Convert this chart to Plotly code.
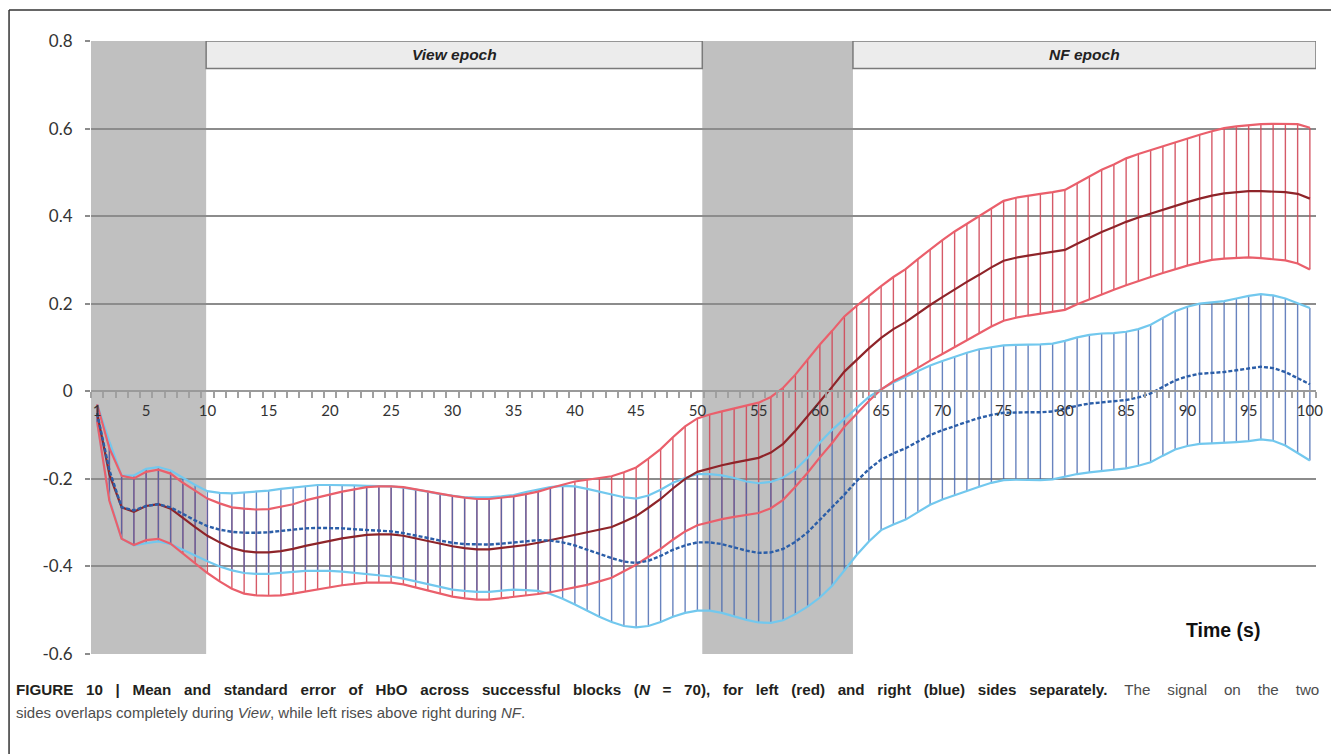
import plotly.graph_objects as go

time_s = list(range(1, 101))

left_mean = [
    -0.05, -0.19, -0.265, -0.275, -0.262, -0.258, -0.268, -0.29, -0.31, -0.33,
    -0.345, -0.358, -0.365, -0.368, -0.368, -0.365, -0.36, -0.353, -0.347, -0.342,
    -0.336, -0.332, -0.328, -0.327, -0.327, -0.33, -0.336, -0.343, -0.349, -0.354,
    -0.358, -0.361, -0.361, -0.358, -0.355, -0.351, -0.346, -0.34, -0.333, -0.327,
    -0.322, -0.316, -0.31, -0.298, -0.285, -0.266, -0.246, -0.222, -0.2, -0.184,
    -0.176, -0.169, -0.163, -0.158, -0.152, -0.14, -0.12, -0.09, -0.057, -0.022,
    0.01, 0.045, 0.072, 0.098, 0.122, 0.142, 0.158, 0.178, 0.197, 0.215,
    0.233, 0.25, 0.266, 0.283, 0.298, 0.305, 0.31, 0.314, 0.318, 0.323,
    0.337, 0.35, 0.364, 0.375, 0.387, 0.397, 0.406, 0.415, 0.424, 0.432,
    0.44, 0.447, 0.452, 0.455, 0.457, 0.457, 0.456, 0.455, 0.451, 0.44,
]
left_se = [
    0.02, 0.06, 0.072, 0.076, 0.078, 0.079, 0.08, 0.081, 0.083, 0.085,
    0.089, 0.093, 0.097, 0.098, 0.099, 0.101, 0.102, 0.104, 0.105, 0.106,
    0.107, 0.108, 0.109, 0.11, 0.11, 0.111, 0.112, 0.113, 0.114, 0.115,
    0.115, 0.115, 0.115, 0.115, 0.115, 0.116, 0.117, 0.119, 0.12, 0.121,
    0.12, 0.118, 0.116, 0.113, 0.111, 0.112, 0.114, 0.117, 0.12, 0.122,
    0.123, 0.123, 0.124, 0.125, 0.126, 0.127, 0.128, 0.128, 0.129, 0.129,
    0.128, 0.126, 0.123, 0.12, 0.118, 0.119, 0.121, 0.124, 0.127, 0.13,
    0.132, 0.133, 0.134, 0.135, 0.137, 0.137, 0.137, 0.137, 0.137, 0.137,
    0.138, 0.14, 0.142, 0.143, 0.145, 0.145, 0.145, 0.145, 0.145, 0.145,
    0.146, 0.147, 0.149, 0.15, 0.151, 0.153, 0.155, 0.156, 0.159, 0.162,
]
right_mean = [
    -0.05, -0.18, -0.265, -0.272, -0.262, -0.258, -0.265, -0.28, -0.295, -0.308,
    -0.316, -0.321, -0.323, -0.323, -0.322, -0.319, -0.316, -0.313, -0.312, -0.312,
    -0.313, -0.315, -0.317, -0.318, -0.32, -0.324, -0.329, -0.335, -0.341, -0.346,
    -0.349, -0.35, -0.35, -0.348, -0.345, -0.342, -0.34, -0.341, -0.345, -0.352,
    -0.362, -0.372, -0.381, -0.389, -0.392, -0.387, -0.376, -0.362, -0.352, -0.345,
    -0.345, -0.349, -0.356, -0.364, -0.369, -0.368, -0.36, -0.344, -0.322, -0.294,
    -0.266, -0.236, -0.205, -0.178, -0.156, -0.142, -0.13, -0.115, -0.1, -0.089,
    -0.079, -0.07, -0.061, -0.054, -0.049, -0.048, -0.048, -0.048, -0.046, -0.04,
    -0.033, -0.028, -0.025, -0.023, -0.02, -0.014, -0.005, 0.01, 0.025, 0.034,
    0.04, 0.042, 0.044, 0.048, 0.052, 0.056, 0.053, 0.044, 0.03, 0.016,
]
right_se = [
    0.02, 0.065, 0.072, 0.08, 0.085, 0.085, 0.084, 0.082, 0.081, 0.08,
    0.084, 0.088, 0.092, 0.094, 0.095, 0.096, 0.096, 0.097, 0.098, 0.098,
    0.099, 0.1, 0.101, 0.102, 0.103, 0.104, 0.105, 0.106, 0.106, 0.107,
    0.107, 0.108, 0.108, 0.108, 0.108, 0.112, 0.116, 0.122, 0.129, 0.135,
    0.139, 0.143, 0.146, 0.147, 0.147, 0.149, 0.151, 0.153, 0.154, 0.156,
    0.156, 0.157, 0.158, 0.158, 0.159, 0.161, 0.163, 0.165, 0.17, 0.177,
    0.178, 0.173, 0.169, 0.165, 0.161, 0.162, 0.163, 0.161, 0.159, 0.158,
    0.158, 0.158, 0.157, 0.155, 0.154, 0.154, 0.154, 0.155, 0.155, 0.155,
    0.156, 0.157, 0.157, 0.156, 0.156, 0.156, 0.157, 0.157, 0.158, 0.159,
    0.16, 0.161, 0.162, 0.164, 0.166, 0.166, 0.166, 0.168, 0.171, 0.174,
]

x_tick_vals = [1, 5, 10, 15, 20, 25, 30, 35, 40, 45, 50, 55, 60, 65, 70, 75, 80, 85, 90, 95, 100]
x_tick_text = [str(v) for v in x_tick_vals]
y_tick_vals = [-0.6, -0.4, -0.2, 0, 0.2, 0.4, 0.6, 0.8]
y_tick_text = ["-0.6", "-0.4", "-0.2", "0", "0.2", "0.4", "0.6", "0.8"]

baseline_periods = [(0.5, 9.9), (50.4, 62.7)]
epochs = [("View epoch", 9.9, 50.4), ("NF epoch", 62.7, 100.5)]
epoch_box_bottom = 0.737

caption_bold = ("FIGURE 10 | Mean and standard error of HbO across successful blocks (<i>N</i> = 70), "
                "for left (red) and right (blue) sides separately.").split(" ")
caption_regular_1 = "The signal on the two".split(" ")
caption_line_2 = "sides overlaps completely during <i>View</i>, while left rises above right during <i>NF</i>."

fig = go.Figure()

def bars(mean, se, col, thick):
    fig.add_trace(go.Scatter(
        x=time_s, y=mean, mode="markers", marker=dict(size=1, opacity=0),
        error_y=dict(type="data", array=se, visible=True, color=col, thickness=thick, width=0),
        showlegend=False, hoverinfo="skip"))

bars(left_mean, left_se, "rgba(208,72,88,0.9)", 1.4)
bars(right_mean, right_se, "rgba(66,100,175,0.8)", 1.4)

left_upper = [m + s for m, s in zip(left_mean, left_se)]
left_lower = [m - s for m, s in zip(left_mean, left_se)]
right_upper = [m + s for m, s in zip(right_mean, right_se)]
right_lower = [m - s for m, s in zip(right_mean, right_se)]

for y in (right_lower, right_upper):
    fig.add_trace(go.Scatter(x=time_s, y=y, mode="lines", line=dict(color="#72c8ee", width=2.2),
                             showlegend=False, hoverinfo="skip"))
for y in (left_lower, left_upper):
    fig.add_trace(go.Scatter(x=time_s, y=y, mode="lines", line=dict(color="#ea5f6b", width=2.2),
                             showlegend=False, hoverinfo="skip"))

fig.add_trace(go.Scatter(x=time_s, y=left_mean, mode="lines",
                         line=dict(color="#8e2429", width=2.2), showlegend=False))
fig.add_trace(go.Scatter(x=time_s, y=right_mean, mode="lines",
                         line=dict(color="#2b5ea8", width=2.4, dash="4px,2px"), showlegend=False))

shapes = []
for x0, x1 in baseline_periods:
    shapes.append(dict(type="rect", xref="x", yref="y", x0=x0, x1=x1, y0=-0.6, y1=0.8,
                       fillcolor="#c0c0c0", line=dict(width=0), layer="below"))
annotations = []
for name, x0, x1 in epochs:
    shapes.append(dict(type="rect", xref="x", yref="y", x0=x0, x1=x1, y0=epoch_box_bottom, y1=0.8,
                       fillcolor="#ececec", line=dict(color="#7a7a7a", width=1.5), layer="above"))
    annotations.append(dict(x=(x0 + x1) / 2, y=(epoch_box_bottom + 0.8) / 2, xref="x", yref="y",
                            text="<b><i>%s</i></b>" % name, showarrow=False,
                            font=dict(family="Arial, Liberation Sans", size=15.5, color="#222")))

# outer frame of the figure panel
shapes.append(dict(type="line", xref="paper", yref="paper", x0=-0.0669, x1=1.03, y0=1.0506, y1=1.0506,
                   line=dict(color="#333", width=1.5)))
shapes.append(dict(type="line", xref="paper", yref="paper", x0=-0.0669, x1=-0.0669, y0=1.0506, y1=-0.2,
                   line=dict(color="#333", width=1.5)))

annotations.append(dict(x=0.956, y=-0.546, xref="paper", yref="y", text="<b>Time (s)</b>",
                        showarrow=False, font=dict(family="Arial, Liberation Sans", size=19.5, color="#111")))

cap_font = "Liberation Sans, Arial"
sep_b = " " + "\u00a0" * 2
sep_r = " " + "\u00a0" * 3
line1 = ("<b>" + sep_b.join(caption_bold) + "</b>" + sep_r
         + "<span style='color:#4d4d4d'>" + sep_r.join(caption_regular_1) + "</span>")
annotations.append(dict(
    x=-0.0625, y=-0.0571, xref="paper", yref="paper", xanchor="left", yanchor="middle",
    text=line1, showarrow=False, align="left", font=dict(family=cap_font, size=15.2, color="#231f20")))
annotations.append(dict(
    x=-0.0625, y=-0.0962, xref="paper", yref="paper", xanchor="left", yanchor="middle",
    text=caption_line_2, showarrow=False, align="left", font=dict(family=cap_font, size=15, color="#4d4d4d")))

fig.update_layout(
    width=1331, height=746,
    margin=dict(l=83, r=23, t=33, b=100),
    paper_bgcolor="white", plot_bgcolor="white",
    shapes=shapes, annotations=annotations,
    showlegend=False,
    xaxis=dict(range=[0.5, 100.5], showgrid=False, zeroline=False,
               anchor="free", position=0.6 / 1.4,
               showline=True, linecolor="#9a9a9a", linewidth=2,
               tickmode="array", tickvals=x_tick_vals, ticktext=x_tick_text,
               ticks="", ticklabelstandoff=6,
               tickfont=dict(family="Lato, Open Sans", size=15, color="#333"),
               minor=dict(ticks="outside", tick0=0.5, dtick=1, ticklen=6, tickcolor="#a0a0a0", tickwidth=1.5)),
    yaxis=dict(range=[-0.6, 0.8], tickmode="array", tickvals=y_tick_vals, ticktext=y_tick_text,
               showgrid=True, gridcolor="#8c8c8c", gridwidth=2, zeroline=False,
               ticks="outside", ticklen=5, tickcolor="#8c8c8c", tickwidth=2,
               ticklabelstandoff=9,
               tickfont=dict(family="Lato, Open Sans", size=17, color="#333")),
)

fig.write_html("out.html")
